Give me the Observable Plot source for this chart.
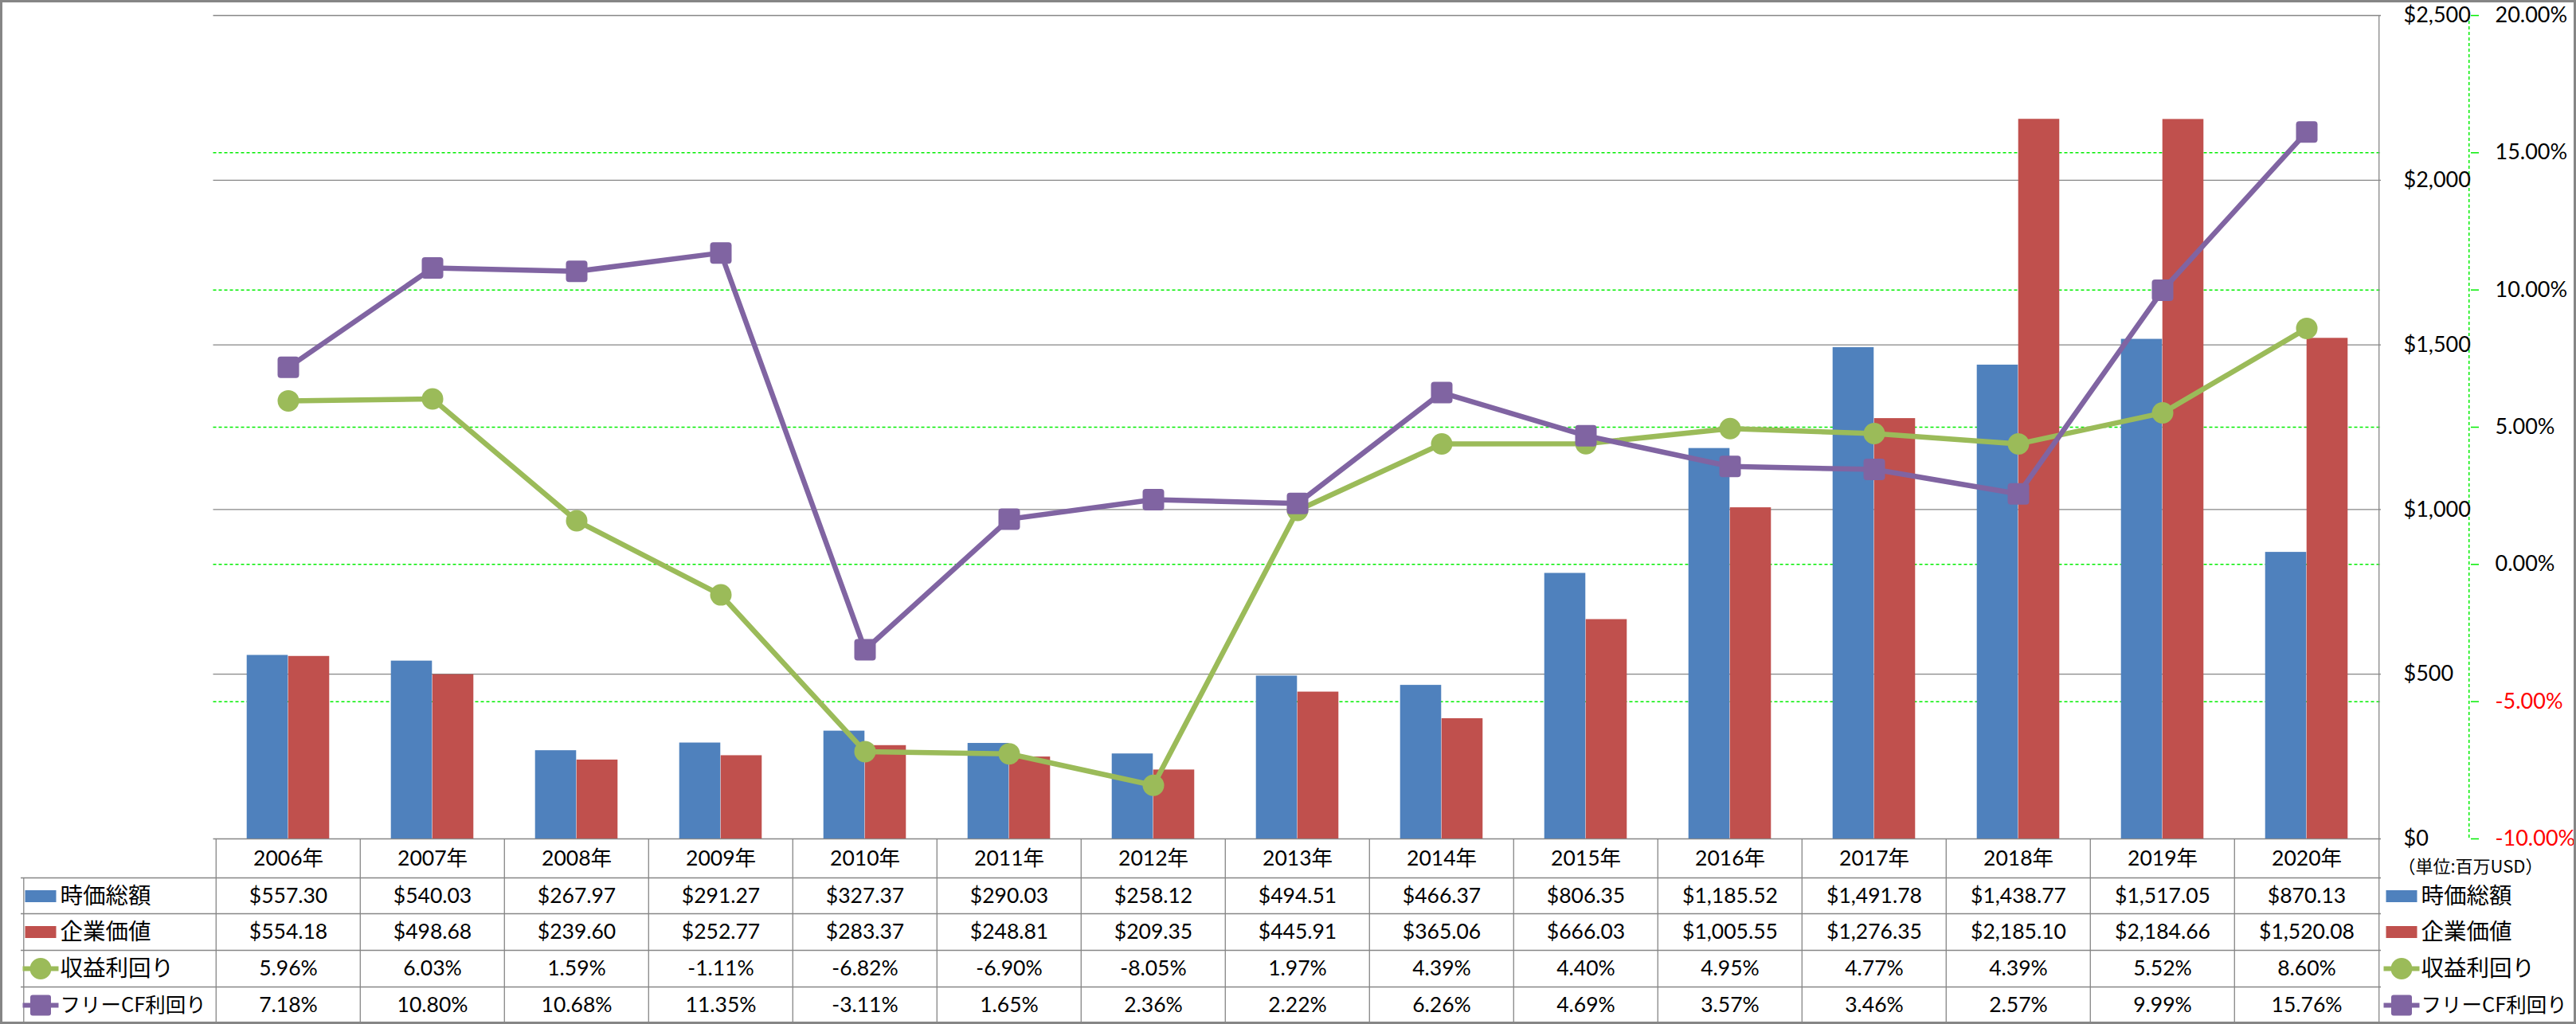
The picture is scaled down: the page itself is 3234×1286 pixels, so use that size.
<!DOCTYPE html>
<html><head><meta charset="utf-8">
<script src="https://cdn.jsdelivr.net/npm/d3@7"></script>
<script src="https://cdn.jsdelivr.net/npm/@observablehq/plot@0.6"></script>
<style>html,body{margin:0;padding:0;background:#fff;} #chart svg{display:block}</style>
</head><body><div id="chart"></div>
<script>
// ---------- data ----------
const years = ["2006年","2007年","2008年","2009年","2010年","2011年","2012年","2013年","2014年","2015年","2016年","2017年","2018年","2019年","2020年"];
const marketCap = [557.30,540.03,267.97,291.27,327.37,290.03,258.12,494.51,466.37,806.35,1185.52,1491.78,1438.77,1517.05,870.13];
const enterpriseValue = [554.18,498.68,239.60,252.77,283.37,248.81,209.35,445.91,365.06,666.03,1005.55,1276.35,2185.10,2184.66,1520.08];
const earningsYield = [5.96,6.03,1.59,-1.11,-6.82,-6.90,-8.05,1.97,4.39,4.40,4.95,4.77,4.39,5.52,8.60];
const fcfYield = [7.18,10.80,10.68,11.35,-3.11,1.65,2.36,2.22,6.26,4.69,3.57,3.46,2.57,9.99,15.76];
const seriesNames = ["時価総額","企業価値","収益利回り","フリーCF利回り"];
const dollarTicks = [0,500,1000,1500,2000,2500];
const pctTicks = [-10,-5,0,5,10,15,20];
const unitLabel = "（単位:百万USD）";

// ---------- layout / style ----------
const W = 3234, H = 1286;
const mL = 267.5, mR = 245, mT = 19, mB = 233;
const frameH = H - mT - mB;
const bw = (W - mL - mR) / years.length;
const blue = "#4F81BD", red = "#C0504D", green = "#9BBB59", purple = "#8064A2";
const gridGray = "#868686", lime = "#00EE00";
const latin = "Lato, 'Noto Sans CJK JP', sans-serif";
const cjk = "'Noto Sans CJK JP', sans-serif";

const dMax = dollarTicks[dollarTicks.length - 1];
const pMin = pctTicks[0], pMax = pctTicks[pctTicks.length - 1];
const pctToY = p => (p - pMin) / (pMax - pMin) * dMax;

const data = years.map((year, i) => ({year, mcap: marketCap[i], ev: enterpriseValue[i], ey: earningsYield[i], fcf: fcfYield[i]}));
const fmtD = d3.format("$,.2f");
const fmtP = p => p.toFixed(2) + "%";
const labelSize = s => s.length > 5 ? 25.5 : 28.5;

// symbols
const rectSym = (w, h) => ({draw(ctx) { ctx.rect(-w / 2, -h / 2, w, h); }});
const roundSq = (s, rr) => ({draw(ctx) {
  const h = s / 2;
  ctx.moveTo(-h + rr, -h); ctx.lineTo(h - rr, -h); ctx.arcTo(h, -h, h, -h + rr, rr);
  ctx.lineTo(h, h - rr); ctx.arcTo(h, h, h - rr, h, rr);
  ctx.lineTo(-h + rr, h); ctx.arcTo(-h, h, -h, h - rr, rr);
  ctx.lineTo(-h, -h + rr); ctx.arcTo(-h, -h, -h + rr, -h, rr); ctx.closePath();
}});
const keyCircle = {draw(ctx) {
  ctx.rect(-22.5, -3, 10, 6); ctx.rect(12.5, -3, 10, 6);
  ctx.moveTo(13.5, 0); ctx.arc(0, 0, 13.5, 0, 2 * Math.PI);
}};
const keySquare = {draw(ctx) {
  ctx.rect(-22.5, -3, 10, 6); ctx.rect(12.5, -3, 10, 6);
  const h = 13, rr = 3;
  ctx.moveTo(-h + rr, -h); ctx.lineTo(h - rr, -h); ctx.arcTo(h, -h, h, -h + rr, rr);
  ctx.lineTo(h, h - rr); ctx.arcTo(h, h, h - rr, h, rr);
  ctx.lineTo(-h + rr, h); ctx.arcTo(-h, h, -h, h - rr, rr);
  ctx.lineTo(-h, -h + rr); ctx.arcTo(-h, -h, -h + rr, -h, rr); ctx.closePath();
}};

// table row geometry (offsets below plot bottom)
const rowCenters = [25, 72, 117, 163, 209];
const rowLines = [49, 94, 140, 186, 231];
const keySyms = [rectSym(39, 15), rectSym(39, 15), keyCircle, keySquare];
const keyColors = [blue, red, green, purple];
const rowFields = [d => fmtD(d.mcap), d => fmtD(d.ev), d => fmtP(d.ey), d => fmtP(d.fcf)];

const marks = [];
// green dashed % gridlines
marks.push(Plot.ruleY(pctTicks.filter(p => p > pMin && p < pMax), {y: pctToY, stroke: lime, strokeWidth: 1.5, strokeDasharray: "4,3"}));
// gray $ gridlines
marks.push(Plot.ruleY(dollarTicks, {y: d => d, stroke: gridGray, strokeWidth: 1.3}));
// bars
marks.push(Plot.barY(data, {x: "year", y: "mcap", fill: blue, insetLeft: bw / 2 - 52, insetRight: bw / 2}));
marks.push(Plot.barY(data, {x: "year", y: "ev", fill: red, insetLeft: bw / 2, insetRight: bw / 2 - 52}));
// lines
marks.push(Plot.line(data, {x: "year", y: d => pctToY(d.ey), stroke: green, strokeWidth: 6.5}));
marks.push(Plot.dot(data, {x: "year", y: d => pctToY(d.ey), r: 13.5, fill: green}));
marks.push(Plot.line(data, {x: "year", y: d => pctToY(d.fcf), stroke: purple, strokeWidth: 6.5}));
marks.push(Plot.dot(data, {x: "year", y: d => pctToY(d.fcf), r: 1, symbol: roundSq(27, 4), fill: purple}));
// plot right border
marks.push(Plot.ruleX([years[years.length - 1]], {x: d => d, dx: bw / 2, stroke: gridGray, strokeWidth: 1.3, insetBottom: -231}));
// right-side axis line (green dashed) and ticks
marks.push(Plot.ruleX([years[years.length - 1]], {x: d => d, dx: bw / 2 + 113, stroke: lime, strokeWidth: 1.5, strokeDasharray: "4,3"}));
marks.push(Plot.ruleY(pctTicks, {y: pctToY, stroke: lime, strokeWidth: 1.5, insetLeft: (W - mL - mR) + 113, insetRight: -123}));
// axis labels
marks.push(Plot.text(dollarTicks, {y: d => d, text: d => d3.format("$,")(d), frameAnchor: "right", dx: 28, textAnchor: "start", lineAnchor: "middle", fontFamily: latin, fontSize: 27, fill: "black"}));
marks.push(Plot.text(pctTicks.filter(p => p >= 0), {y: pctToY, text: fmtP, frameAnchor: "right", dx: 143, textAnchor: "start", lineAnchor: "middle", fontFamily: latin, fontSize: 27, fill: "black"}));
marks.push(Plot.text(pctTicks.filter(p => p < 0), {y: pctToY, text: fmtP, frameAnchor: "right", dx: 143, textAnchor: "start", lineAnchor: "middle", fontFamily: latin, fontSize: 27, fill: "red"}));
// unit label
marks.push(Plot.text([unitLabel], {frameAnchor: "bottom-right", dx: 21, dy: 35, textAnchor: "start", lineAnchor: "middle", fontFamily: cjk, fontSize: 22, fill: "black"}));

// data table grid
marks.push(Plot.ruleX(years, {x: d => d, dx: -bw / 2, stroke: gridGray, strokeWidth: 1.3, insetTop: frameH, insetBottom: -231}));
marks.push(Plot.ruleX([years[0]], {x: d => d, dx: -bw / 2 - (mL - 26), stroke: gridGray, strokeWidth: 1.3, insetTop: frameH + 49, insetBottom: -231}));
rowLines.forEach(off => marks.push(Plot.ruleY([0], {y: d => d, dy: off, stroke: gridGray, strokeWidth: 1.3, insetLeft: -(mL - 26)})));
// header
marks.push(Plot.text(years, {x: d => d, text: d => d, frameAnchor: "bottom", lineAnchor: "middle", dy: rowCenters[0], fontFamily: latin, fontSize: 26.5, fill: "black"}));
// rows
rowFields.forEach((f, r) => {
  marks.push(Plot.text(data, {x: "year", text: f, frameAnchor: "bottom", lineAnchor: "middle", dy: rowCenters[r + 1], fontFamily: latin, fontSize: 26.5, fill: "black"}));
  // left legend column
  marks.push(Plot.dot([seriesNames[r]], {x: null, y: null, frameAnchor: "bottom-left", dx: 50.5 - mL, dy: rowCenters[r + 1], r: 1, symbol: keySyms[r], fill: keyColors[r]}));
  marks.push(Plot.text([seriesNames[r]], {frameAnchor: "bottom-left", dx: 75 - mL, dy: rowCenters[r + 1], textAnchor: "start", lineAnchor: "middle", fontFamily: cjk, fontSize: labelSize(seriesNames[r]), fill: "black"}));
  // right legend
  marks.push(Plot.dot([seriesNames[r]], {x: null, y: null, frameAnchor: "bottom-right", dx: 25.5, dy: rowCenters[r + 1], r: 1, symbol: keySyms[r], fill: keyColors[r]}));
  marks.push(Plot.text([seriesNames[r]], {frameAnchor: "bottom-right", dx: 50, dy: rowCenters[r + 1], textAnchor: "start", lineAnchor: "middle", fontFamily: cjk, fontSize: labelSize(seriesNames[r]), fill: "black"}));
});

const chart = Plot.plot({
  width: W, height: H,
  marginLeft: mL, marginRight: mR, marginTop: mT, marginBottom: mB,
  x: {type: "band", domain: years, padding: 0, axis: null},
  y: {domain: [0, dMax], axis: null},
  style: {background: "#fff", overflow: "visible", outline: "3px solid #868686", outlineOffset: "-3px"},
  marks
});
document.getElementById("chart").appendChild(chart);
</script>
</body></html>
